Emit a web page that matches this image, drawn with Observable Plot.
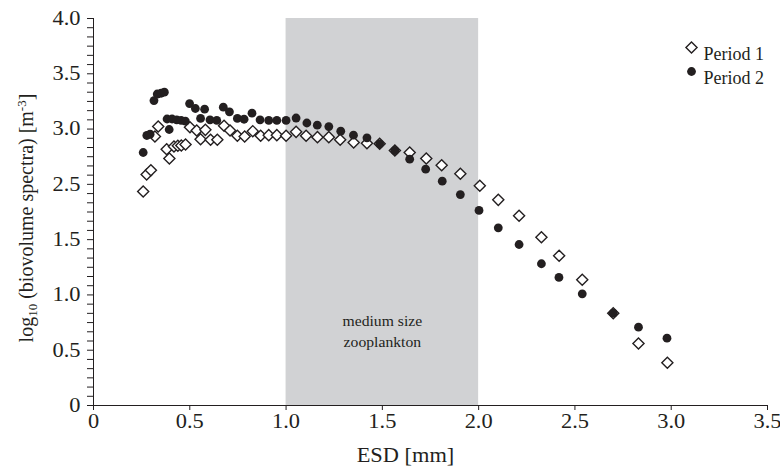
<!DOCTYPE html>
<html><head><meta charset="utf-8">
<script src="https://cdn.jsdelivr.net/npm/d3@7"></script>
<script src="https://cdn.jsdelivr.net/npm/@observablehq/plot@0.6"></script>
<style>
html,body{margin:0;padding:0;background:#fff;}
</style>
</head><body><div id="chart"></div>
<script>
const seriesNames = ["Period 1", "Period 2"];
// Period 1 (open diamonds)
const p1x = [0.258,0.276,0.298,0.319,0.336,0.380,0.394,0.418,0.438,0.456,0.478,0.501,0.536,0.556,0.581,0.608,0.643,0.678,0.709,0.747,0.785,0.827,0.868,0.910,0.952,1.000,1.052,1.104,1.163,1.222,1.281,1.351,1.420,1.486,1.565,1.642,1.728,1.808,1.905,2.006,2.102,2.210,2.326,2.418,2.538,2.699,2.830,2.980];
const p1y = [1.935,2.089,2.128,2.433,2.523,2.318,2.234,2.342,2.349,2.351,2.361,2.517,2.487,2.408,2.493,2.403,2.403,2.530,2.487,2.439,2.433,2.481,2.439,2.445,2.445,2.439,2.475,2.439,2.427,2.427,2.403,2.379,2.372,2.367,2.306,2.288,2.234,2.173,2.096,1.987,1.860,1.716,1.522,1.354,1.137,0.835,0.561,0.386];
// Period 2 (filled circles)
const p2x = [0.258,0.277,0.294,0.314,0.331,0.351,0.368,0.382,0.393,0.408,0.432,0.455,0.477,0.499,0.529,0.556,0.577,0.605,0.640,0.674,0.706,0.747,0.782,0.823,0.865,0.910,0.952,1.000,1.052,1.108,1.162,1.222,1.284,1.350,1.420,1.486,1.565,1.642,1.725,1.811,1.905,2.002,2.102,2.210,2.326,2.417,2.538,2.699,2.830,2.978];
const p2y = [2.288,2.442,2.454,2.758,2.817,2.824,2.834,2.591,2.496,2.591,2.584,2.578,2.571,2.731,2.686,2.596,2.680,2.584,2.578,2.698,2.656,2.596,2.589,2.644,2.584,2.578,2.578,2.578,2.600,2.555,2.535,2.523,2.481,2.445,2.421,2.367,2.306,2.228,2.137,2.029,1.908,1.764,1.607,1.456,1.282,1.158,1.010,0.835,0.708,0.609];

const xTickValues = [0,0.5,1,1.5,2,2.5,3,3.5];
const xTickLabels = ["0","0.5","1.0","1.5","2.0","2.5","3.0","3.5"];
const yTickValues = [0,0.5,1,1.5,2,2.5,3,3.5];
const yTickLabels = ["0","0.5","1.0","1.5","2.5","3.0","3.5","4.0"];
const band = [1.0, 2.0];
const bandLabel = "medium size\nzooplankton";
const xTitle = "ESD [mm]";

const ink = "#231f20";
const font = "'Liberation Serif','Times New Roman',serif";

const p1 = p1x.map((x, i) => ({x, y: p1y[i]}));
const p2 = p2x.map((x, i) => ({x, y: p2y[i]}));
const minor = d3.range(0, 3.5 + 1e-9, 0.5 / 6).filter((v, i) => i % 6 !== 0);
const lab = (vals, labels) => d => labels[vals.findIndex(v => Math.abs(v - d) < 1e-6)];

const chart = Plot.plot({
  width: 780, height: 473,
  marginLeft: 93, marginRight: 13, marginTop: 18, marginBottom: 68,
  style: {fontFamily: font, fontSize: "20px", background: "#fff", color: ink, overflow: "visible"},
  x: {domain: [0, 3.5]},
  y: {domain: [0, 3.5]},
  marks: [
    Plot.rect([{x1: band[0], x2: band[1]}], {x1: "x1", x2: "x2", fill: "#d1d2d4"}),
    Plot.text([{x: (band[0] + band[1]) / 2, t: bandLabel}], {x: "x", text: "t", frameAnchor: "bottom", dy: -59, fontSize: 14, lineHeight: 1.45, fill: ink, className: "stretch"}),
    Plot.axisX(xTickValues, {tickFormat: lab(xTickValues, xTickLabels), tickSize: 5, tickPadding: 3, label: null, stroke: ink, fill: ink, fontSize: 20}),
    Plot.axisY(yTickValues, {tickFormat: lab(yTickValues, yTickLabels), tickSize: 6, tickPadding: 7, label: null, stroke: ink, fill: ink, fontSize: 20}),
    Plot.axisY(minor, {tickFormat: () => "", tickSize: 6, label: null, stroke: ink}),
    Plot.ruleX([0], {stroke: ink}),
    Plot.ruleY([0], {stroke: ink}),
    Plot.dot(p1, {x: "x", y: "y", symbol: "diamond2", r: 5, stroke: ink, strokeWidth: 1.4, fill: "white"}),
    Plot.dot(p2, {x: "x", y: "y", r: 4.4, fill: ink, stroke: "none"}),
    // legend
    Plot.dot([seriesNames[0]], {frameAnchor: "top-right", dx: -76, dy: 29, symbol: "diamond2", r: 5, stroke: ink, strokeWidth: 1.4, fill: "white"}),
    Plot.dot([seriesNames[1]], {frameAnchor: "top-right", dx: -76, dy: 53, r: 4.4, fill: ink}),
    Plot.text([seriesNames[0]], {text: d => d, frameAnchor: "top-right", dx: -64, dy: 29, textAnchor: "start", fontSize: 18, fill: ink, className: "legend"}),
    Plot.text([seriesNames[1]], {text: d => d, frameAnchor: "top-right", dx: -64, dy: 53, textAnchor: "start", fontSize: 18, fill: ink, className: "legend"}),
    Plot.text([xTitle], {text: d => d, frameAnchor: "bottom", dx: -25, dy: 56, fontSize: 20, fill: ink})
  ]
});

document.getElementById("chart").appendChild(chart);

const svg = d3.select(chart);
// widen horizontal glyphs slightly (reference text is horizontally stretched)
svg.selectAll("g[aria-label='x-axis tick label'] text, g[aria-label='y-axis tick label'] text, g[aria-label='text']:not(.legend) text").each(function() {
  const tr = this.getAttribute("transform");
  if (tr && tr.startsWith("translate")) this.setAttribute("transform", tr + " scale(1.12,1)");
});

// y-axis title with subscript / superscript
const t = svg.append("text")
  .attr("transform", "translate(33,218) rotate(-90)")
  .attr("text-anchor", "middle")
  .attr("font-family", font)
  .attr("font-size", 20)
  .attr("fill", ink);
t.append("tspan").text("log");
t.append("tspan").attr("font-size", 13).attr("dy", 4).text("10");
t.append("tspan").attr("dy", -4).text(" (biovolume spectra) [m");
t.append("tspan").attr("font-size", 13).attr("dy", -7).text("-3");
t.append("tspan").attr("dy", 7).text("]");
</script>
</body></html>
